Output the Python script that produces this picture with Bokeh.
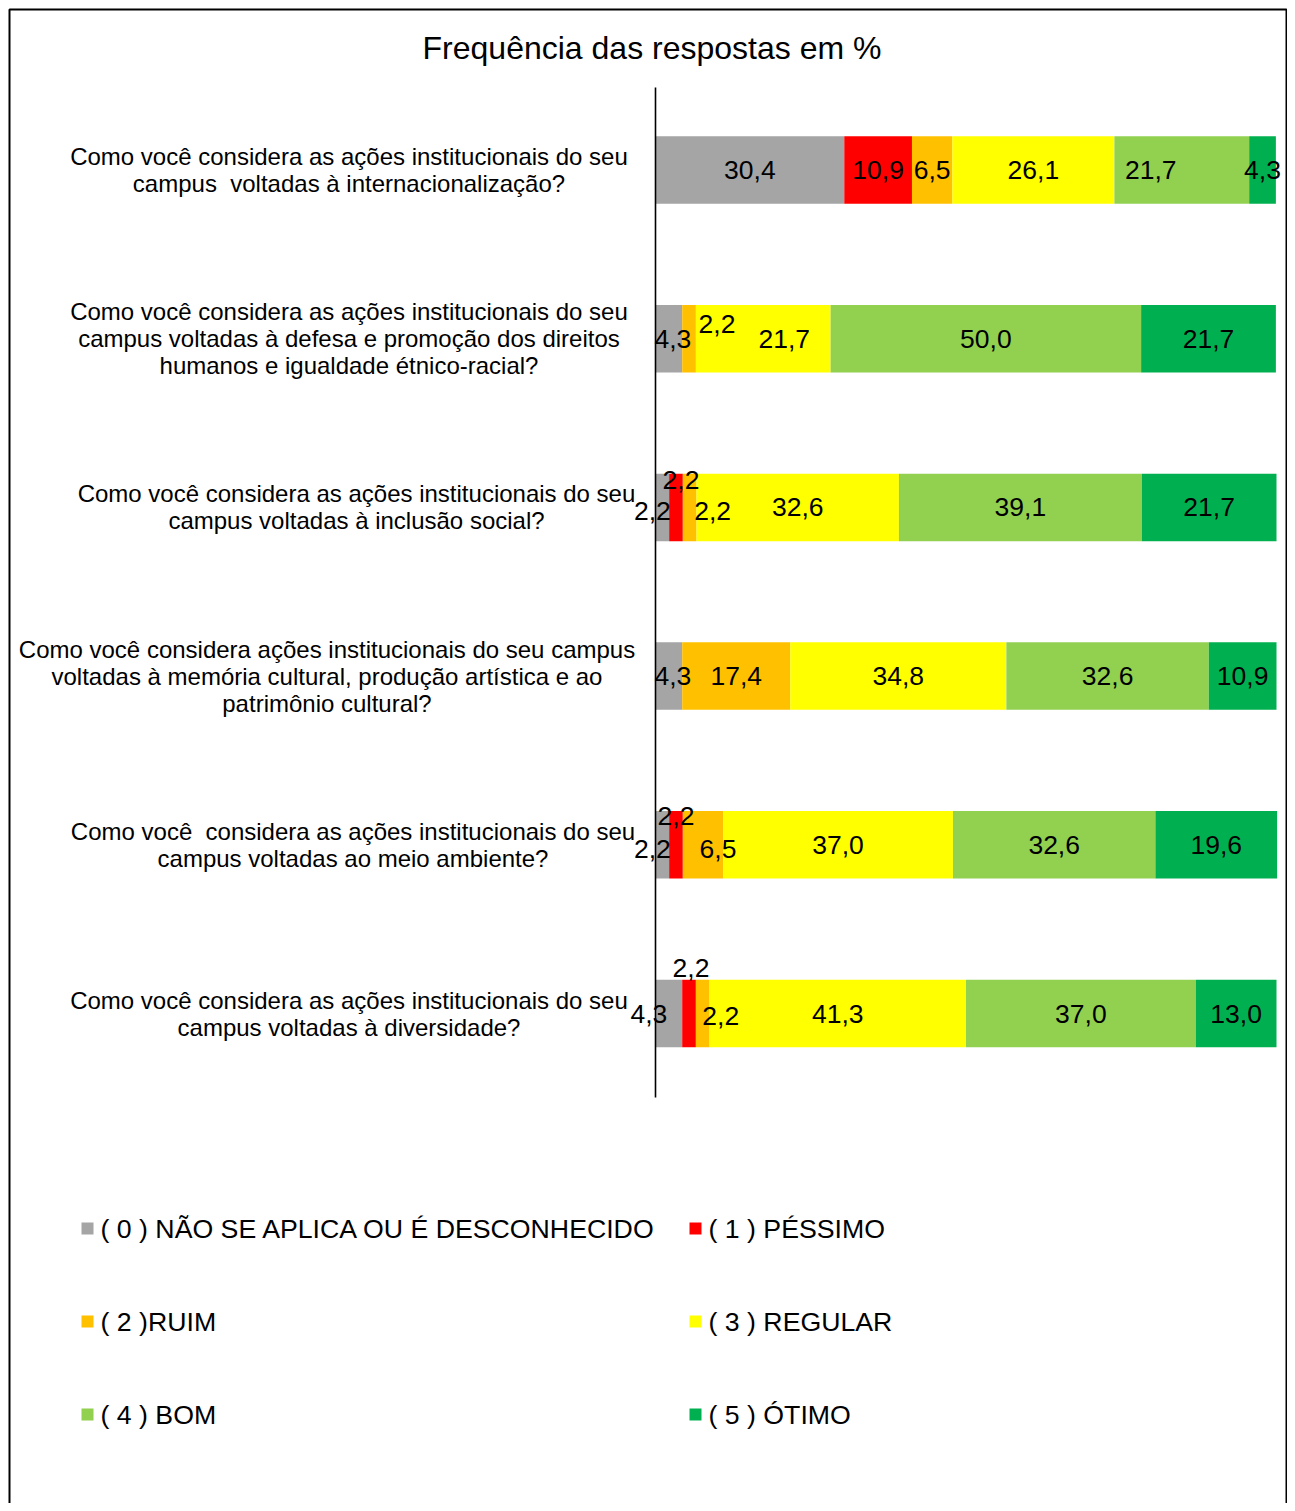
from bokeh.plotting import figure
from bokeh.models import Range1d, ColumnDataSource
from bokeh.core.properties import value
from bokeh.embed import file_html
from bokeh.resources import INLINE

# ---------------- data ----------------
title_text = "Frequência das respostas em %"

questions = [
    "Como você considera as ações institucionais do seu\ncampus \u00a0voltadas à internacionalização?",
    "Como você considera as ações institucionais do seu\ncampus voltadas à defesa e promoção dos direitos\nhumanos e igualdade étnico-racial?",
    "Como você considera as ações institucionais do seu\ncampus voltadas à inclusão social?",
    "Como você considera ações institucionais do seu campus\nvoltadas à memória cultural, produção artística e ao\npatrimônio cultural?",
    "Como você \u00a0considera as ações institucionais do seu\ncampus voltadas ao meio ambiente?",
    "Como você considera as ações institucionais do seu\ncampus voltadas à diversidade?",
]

series_names = [
    "( 0 ) NÃO SE APLICA OU É DESCONHECIDO",
    "( 1 ) PÉSSIMO",
    "( 2 )RUIM",
    "( 3 ) REGULAR",
    "( 4 ) BOM",
    "( 5 ) ÓTIMO",
]

nao_se_aplica = [30.4, 4.3, 2.2, 4.3, 2.2, 4.3]
pessimo = [10.9, 0.0, 2.2, 0.0, 2.2, 2.2]
ruim = [6.5, 2.2, 2.2, 17.4, 6.5, 2.2]
regular = [26.1, 21.7, 32.6, 34.8, 37.0, 41.3]
bom = [21.7, 50.0, 39.1, 32.6, 32.6, 37.0]
otimo = [4.3, 21.7, 21.7, 10.9, 19.6, 13.0]

series_values = [nao_se_aplica, pessimo, ruim, regular, bom, otimo]

# ---------------- styles / layout ----------------
colors = ["#A5A5A5", "#FF0000", "#FFC000", "#FFFF00", "#92D050", "#00B050"]
FONT = "Liberation Sans"

W, H = 1287, 1503
PX_PER_PCT = 6.21        # horizontal pixels per percentage point
AXIS_SX = 655            # axis position (px)
ROW0_SY = 169.5          # first row centre (px)
PX_PER_ROW = 168.7

def dx(sx):  # pixel -> data x
    return (sx - AXIS_SX) / PX_PER_PCT

def dy(sy):  # pixel -> data y
    return (sy - ROW0_SY) / PX_PER_ROW

x0 = dx(0)
x1 = dx(W)
ytop = dy(0)
ybot = dy(H)

# label nudges (px) per (row, series) to mimic the original placement
label_nudge = {
    (0, 4): (-31, 0),
    (1, 0): (4, 0), (1, 2): (28, -15), (1, 3): (21, 0),
    (2, 0): (-10, 4), (2, 1): (5, -27), (2, 2): (23, 4),
    (3, 0): (4, 0),
    (4, 0): (-10, 4), (4, 1): (0, -29), (4, 2): (15, 4),
    (5, 0): (-20, 0), (5, 1): (2, -46), (5, 2): (18, 2),
}
question_centre_px = [348.5, 348.5, 356, 326.5, 352.5, 348.5]

p = figure(width=W, height=H, x_range=Range1d(x0, x1), y_range=Range1d(ybot, ytop),
           output_backend="svg", toolbar_location=None, min_border=0,
           x_axis_location=None, y_axis_location=None)
p.grid.visible = False
p.outline_line_color = None
p.background_fill_color = "white"
p.border_fill_color = "white"

# chart frame (left, top, right edges; bottom is cut off in the original)
p.multi_line(xs=[[dx(9), dx(9), dx(1286), dx(1286)]],
             ys=[[dy(H + 5), dy(9), dy(9), dy(H + 5)]],
             line_color="black", line_width=2)

rows = list(range(len(questions)))
left = [0.0] * len(rows)
lab_x, lab_y, lab_t, lab_dx, lab_dy = [], [], [], [], []
for s, vals in enumerate(series_values):
    right = [l + v for l, v in zip(left, vals)]
    src = ColumnDataSource(dict(y=rows, left=left, right=right))
    p.hbar(y="y", left="left", right="right", height=0.4, source=src,
           fill_color=colors[s], line_color=None)
    for r in rows:
        if vals[r] > 0:
            lab_x.append((left[r] + right[r]) / 2)
            lab_y.append(r)
            lab_t.append(f"{vals[r]:.1f}".replace(".", ","))
            ndx, ndy = label_nudge.get((r, s), (0, 0))
            lab_dx.append(ndx)
            lab_dy.append(ndy)
    left = right

p.text(x="x", y="y", text="t", x_offset="dx", y_offset="dy",
       source=ColumnDataSource(dict(x=lab_x, y=lab_y, t=lab_t, dx=lab_dx, dy=lab_dy)),
       text_font=value(FONT), text_font_size="26.5px", text_color="black",
       text_align="center", text_baseline="middle")

# vertical category axis line
p.segment(x0=[0], y0=[dy(87)], x1=[0], y1=[dy(1097)], line_color="black", line_width=1.6)

# category labels
p.text(x=[dx(c) for c in question_centre_px], y=rows, text=questions,
       text_font=value(FONT), text_font_size="24px", text_color="black",
       text_align="center", text_baseline="middle", text_line_height=1.0)

# title
p.text(x=[dx(651.5)], y=[dy(47)], text=[title_text],
       text_font=value(FONT), text_font_size="32px", text_color="black",
       text_align="center", text_baseline="middle")

# legend (2 columns x 3 rows)
leg_col_sx = [87, 695]
leg_row_sy = [1228, 1321, 1414]
leg_x = [dx(leg_col_sx[i % 2]) for i in range(6)]
leg_y = [dy(leg_row_sy[i // 2]) for i in range(6)]
p.scatter(x=leg_x, y=leg_y, marker="square", size=12, fill_color=colors, line_color=None)
p.text(x=leg_x, y=leg_y, text=series_names, x_offset=13,
       text_font=value(FONT), text_font_size="26.7px", text_color="black",
       text_align="left", text_baseline="middle")

open("out.html", "w").write(file_html(p, INLINE))
